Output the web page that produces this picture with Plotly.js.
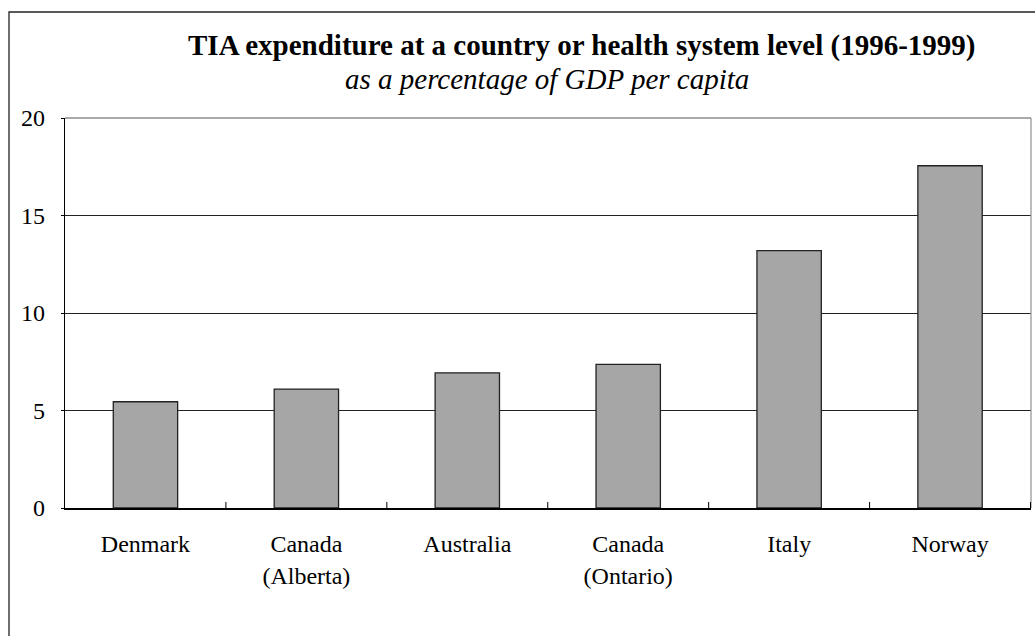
<!DOCTYPE html>
<html>
<head>
<meta charset="utf-8">
<script src="https://cdn.plot.ly/plotly-3.0.1.min.js"></script>
<style>html,body{margin:0;padding:0;background:#fff;}#chart{width:1035px;height:636px;}</style>
</head>
<body>
<div id="chart"></div>
<script>
const categories = ["Denmark", "Canada<br>(Alberta)", "Australia", "Canada<br>(Ontario)", "Italy", "Norway"];
const values = [5.45, 6.1, 6.93, 7.37, 13.2, 17.55];
const yTicks = [0, 5, 10, 15, 20];
const titleText = "<b>TIA expenditure at a country or health system level (1996-1999)</b>";
const subtitleText = "<i>as a percentage of GDP per capita</i>";

const W = 1035, H = 636;
const m = {l: 65, r: 4, t: 118, b: 128};
const pw = W - m.l - m.r, ph = H - m.t - m.b;
const px = x => (x - m.l) / pw;
const py = y => (H - m.b - y) / ph;
const FONT = '"Liberation Serif", "Times New Roman", serif';

const trace = {
  type: 'bar',
  x: categories,
  y: values,
  width: 0.4,
  marker: {color: '#a6a6a6', line: {color: '#222', width: 1.3}},
  hoverinfo: 'x+y'
};

const layout = {
  width: W, height: H,
  margin: m,
  paper_bgcolor: '#fff', plot_bgcolor: '#fff',
  font: {family: FONT, color: '#000', size: 24},
  showlegend: false,
  bargap: 0.6,
  xaxis: {
    type: 'category',
    showgrid: false,
    showline: true, linecolor: '#000', linewidth: 1.5,
    ticks: '', tickfont: {size: 24},
    ticklabelstandoff: 14,
    fixedrange: true
  },
  yaxis: {
    range: [0, 20],
    tickvals: yTicks,
    ticktext: yTicks.map(String),
    showgrid: true, gridcolor: '#222', gridwidth: 1,
    zeroline: false,
    showline: true, linecolor: '#000', linewidth: 1.3,
    ticks: 'outside', ticklen: 3, tickcolor: '#000',
    ticklabelstandoff: 11,
    tickfont: {size: 24},
    fixedrange: true
  },
  shapes: [
    {type: 'rect', xref: 'paper', yref: 'paper',
     x0: px(9), x1: px(1045), y0: py(650), y1: py(12),
     line: {color: '#222', width: 1.3}, fillcolor: 'rgba(0,0,0,0)', layer: 'below'},
    {type: 'line', xref: 'paper', yref: 'paper', x0: 1, x1: 1, y0: 0, y1: 1,
     line: {color: '#999', width: 1.3}},
    {type: 'line', xref: 'paper', yref: 'paper', x0: 0, x1: 1, y0: 1, y1: 1,
     line: {color: '#555', width: 1}}
  ].concat([0.5, 1.5, 2.5, 3.5, 4.5, 5.5].map(v => ({
    type: 'line', xref: 'x', yref: 'paper', x0: v, x1: v, y0: 0, y1: 6 / ph,
    line: {color: '#000', width: 1}
  }))),
  annotations: [
    {text: titleText, xref: 'paper', yref: 'paper', x: px(582), y: py(45),
     xanchor: 'center', yanchor: 'middle', showarrow: false,
     font: {size: 29, family: FONT}},
    {text: subtitleText, xref: 'paper', yref: 'paper', x: px(547), y: py(79),
     xanchor: 'center', yanchor: 'middle', showarrow: false,
     font: {size: 29, family: FONT}}
  ]
};

Plotly.newPlot('chart', [trace], layout, {displayModeBar: false, staticPlot: true});
</script>
</body>
</html>
